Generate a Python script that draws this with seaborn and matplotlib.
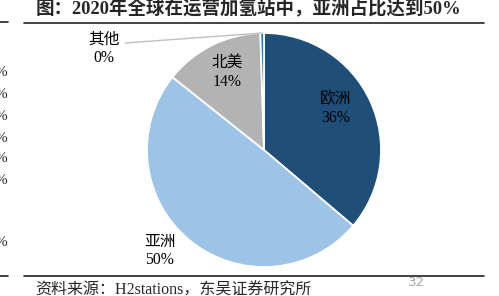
import matplotlib
matplotlib.use("Agg")
import matplotlib.pyplot as plt
import seaborn as sns
import numpy as np

# data
regions = ["欧洲", "亚洲", "北美", "其他"]
shares = [36.2, 49.5, 13.8, 0.5]
pct_labels = ["36%", "50%", "14%", "0%"]
colors = ["#1F4E79", "#9DC3E6", "#B3B3B3", "#2E75B6"]
title = "图：2020年全球在运营加氢站中，亚洲占比达到50%"
source = "资料来源：H2stations，东吴证券研究所"

sns.set_theme(style="white")
FAM = ["Liberation Serif", "Noto Sans CJK SC", "DejaVu Sans"]
plt.rcParams["font.family"] = FAM

W, H = 499, 296
fig = plt.figure(figsize=(W / 100, H / 100), dpi=100)
fig.patch.set_facecolor("white")

cx, cy, r = 264, 150, 117
ax = fig.add_axes([(cx - r) / W, (H - cy - r) / H, 2 * r / W, 2 * r / H])
pal = sns.color_palette(colors)
wedges, _ = ax.pie(shares, colors=pal, startangle=90, counterclock=False,
                   wedgeprops=dict(edgecolor="white", linewidth=1.3))
ax.set_xlim(-1, 1)
ax.set_ylim(-1, 1)
ax.set_aspect("equal")
ax.axis("off")

# labels (figure pixel positions of label centres)
label_pos = {"欧洲": (336, 109), "亚洲": (160, 251), "北美": (227, 72), "其他": (104, 49)}
for reg, pct in zip(regions, pct_labels):
    px, py = label_pos[reg]
    fig.text(px / W, 1 - py / H, f"{reg}\n{pct}", ha="center", va="center",
             fontsize=11.3, color="#000000", linespacing=1.25, family=FAM)

# leader line for 其他
w = wedges[3]
mid = np.deg2rad((w.theta1 + w.theta2) / 2)
ex, ey = np.cos(mid), np.sin(mid)
ax.annotate("", xy=(ex, ey), xycoords="data",
            xytext=(125 / W, 1 - 43 / H), textcoords="figure fraction",
            arrowprops=dict(arrowstyle="-", color="#C0C0C0", lw=1.0,
                            shrinkA=0, shrinkB=0), annotation_clip=False)

# page decorations
fig.text(248 / W, 1 - 8 / H, title, ha="center", va="center", fontsize=13.3,
         fontweight="bold", family=FAM)
for y in (23, 276):
    fig.add_artist(plt.Line2D([24 / W, 484 / W], [1 - y / H] * 2, color="#222222", lw=1.2))
fig.add_artist(plt.Line2D([0, 8 / W], [1 - 22 / H] * 2, color="#222222", lw=1.2))
fig.add_artist(plt.Line2D([0, 8 / W], [1 - 276 / H] * 2, color="#222222", lw=1.2))
for y in (73, 94, 116, 138, 158, 180, 242):
    fig.text(7 / W, 1 - y / H, "%", ha="right", va="center", fontsize=11, family=FAM)
fig.text(35 / W, 1 - 291 / H, source, ha="left", va="center", fontsize=11.5, family=FAM)
fig.text(416 / W, 1 - 283 / H, "32", ha="center", va="center", fontsize=9.5,
         color="#A6A6A6", family=["DejaVu Sans"])

fig.savefig("out.png", dpi=100, facecolor="white")
